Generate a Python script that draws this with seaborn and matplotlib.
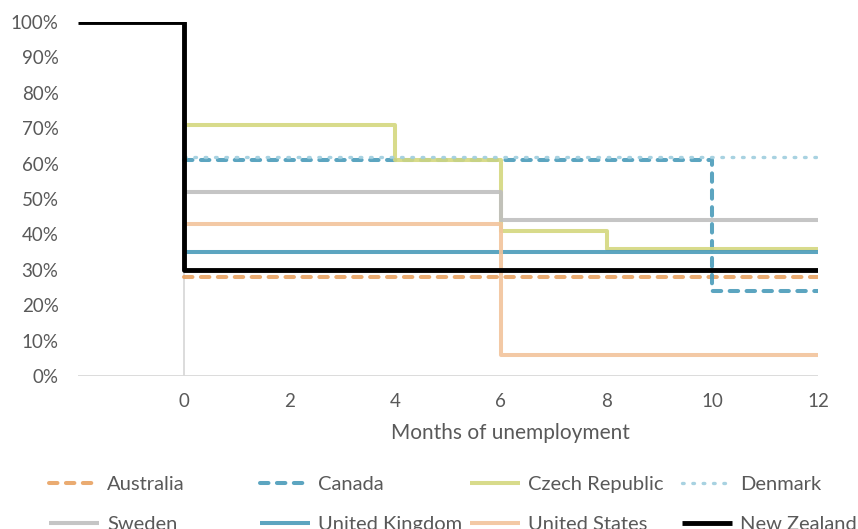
import matplotlib
matplotlib.use("Agg")
import matplotlib.pyplot as plt
import seaborn as sns
import pandas as pd

# months of unemployment (step start points) and replacement rate (%)
australia_x = [0, 12]
australia_y = [28, 28]
canada_x = [0, 10, 12]
canada_y = [61, 24, 24]
czech_x = [0, 4, 6, 8, 12]
czech_y = [71, 61, 41, 36, 36]
denmark_x = [0, 12]
denmark_y = [62, 62]
sweden_x = [0, 6, 12]
sweden_y = [52, 44, 44]
uk_x = [0, 12]
uk_y = [35, 35]
us_x = [0, 6, 12]
us_y = [43, 6, 6]
nz_x = [-2, 0, 12]
nz_y = [100, 30, 30]

x_ticks = [0, 2, 4, 6, 8, 10, 12]
y_ticks = [0, 10, 20, 30, 40, 50, 60, 70, 80, 90, 100]

sns.set_theme(style="white")
plt.rcParams["font.family"] = ["Lato", "DejaVu Sans"]
text_col = "#595959"

series = [
    ("Australia", australia_x, australia_y, "#E8A262", (0, (2.1, 2.1)), 2.9),
    ("Canada", canada_x, canada_y, "#4A9BBA", (0, (2.1, 2.1)), 2.9),
    ("Czech Republic", czech_x, czech_y, "#D4D87F", "-", 2.9),
    ("Denmark", denmark_x, denmark_y, "#9FCEDE", (0, (0.5, 2.6)), 2.4),
    ("Sweden", sweden_x, sweden_y, "#BFBFBF", "-", 2.9),
    ("United Kingdom", uk_x, uk_y, "#4A9BBA", "-", 2.9),
    ("United States", us_x, us_y, "#F2C49B", "-", 2.9),
    ("New Zealand", nz_x, nz_y, "#000000", "-", 3.5),
]

fig = plt.figure(figsize=(8.58, 5.29), dpi=100)
ax = fig.add_axes([78 / 858, 1 - 376 / 529, 740 / 858, 354 / 529])

ax.axhline(0, color="#D9D9D9", lw=1.3, zorder=1)
ax.axvline(0, color="#D9D9D9", lw=1.3, zorder=1)

handles = {}
for i, (name, xs, ys, col, ls, lw) in enumerate(series):
    df = pd.DataFrame({"month": xs, "rate": ys})
    sns.lineplot(data=df, x="month", y="rate", ax=ax, color=col, lw=lw,
                 linestyle=ls, drawstyle="steps-post", dash_capstyle="round",
                 solid_capstyle="butt", alpha=0.9 if col != "#000000" else 1,
                 zorder=3 + i, label=name, legend=False)
    handles[name] = ax.lines[-1]

ax.set_xlim(-2, 12)
ax.set_ylim(0, 100)
ax.set_xticks(x_ticks)
ax.set_yticks(y_ticks)
ax.set_yticklabels([f"{v}%" for v in y_ticks])
ax.tick_params(axis="both", length=0, labelsize=13.5, labelcolor=text_col)
ax.tick_params(axis="y", pad=14)
ax.tick_params(axis="x", pad=12)
for s in ax.spines.values():
    s.set_visible(False)
ax.set_ylabel("")
ax.set_xlabel("Months of unemployment", fontsize=15, color=text_col)
ax.xaxis.set_label_coords(0.584, -0.161)
ax.xaxis.label.set_va("center")

# legend laid out in four fixed-width columns like the original
columns = [["Australia", "Sweden"], ["Canada", "United Kingdom"],
           ["Czech Republic", "United States"], ["Denmark", "New Zealand"]]
col_x = [49, 260, 470, 682]
for cx, names in zip(col_x, columns):
    fig.legend([handles[n] for n in names], names, loc="upper left",
               bbox_to_anchor=(cx / 858, 1 - 476 / 529), frameon=False,
               fontsize=14.5, handlelength=2.5, handletextpad=0.38,
               labelspacing=1.12, borderpad=0, borderaxespad=0,
               labelcolor=text_col)

fig.savefig("out.png", dpi=100)
